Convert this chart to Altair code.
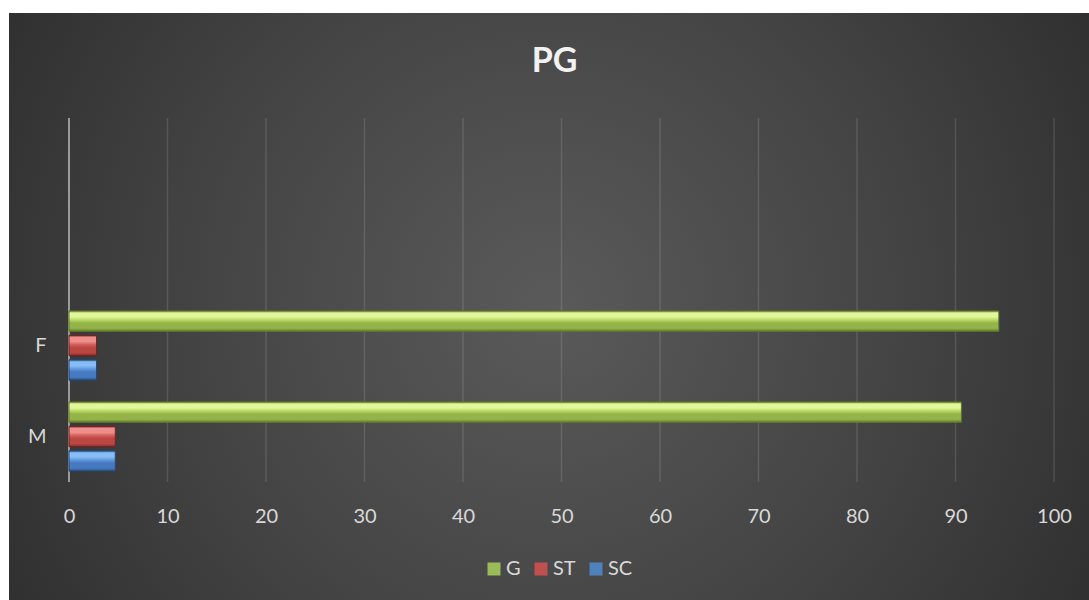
import altair as alt
import pandas as pd

# ---- data ----
categories = ["M", "F"]
series = ["G", "ST", "SC"]
g_values = [90.6, 94.4]
st_values = [4.7, 2.8]
sc_values = [4.7, 2.8]
x_ticks = [0, 10, 20, 30, 40, 50, 60, 70, 80, 90, 100]
# Excel category axis had two blank categories above F and M
y_domain = ["  ", " ", "F", "M"]
title_text = "PG"

rows = []
for i, c in enumerate(categories):
    rows.append({"cat": c, "series": "G", "value": g_values[i]})
    rows.append({"cat": c, "series": "ST", "value": st_values[i]})
    rows.append({"cat": c, "series": "SC", "value": sc_values[i]})
df = pd.DataFrame(rows)

W, H = 985, 364
FONT = "Lato"
TXT = "#d9d9d9"

xscale = alt.Scale(domain=[0, 100], nice=False, zero=True)
yscale = alt.Scale(domain=y_domain, paddingInner=0.24, paddingOuter=0.12)
yoff_scale = alt.Scale(domain=series, paddingInner=0.17, paddingOuter=0)

x_axis = alt.Axis(values=x_ticks, grid=False, domain=False, ticks=False,
                  labelColor=TXT, labelFontSize=20, labelFont=FONT,
                  labelPadding=24, labelFlush=False, labelOverlap=False,
                  title=None, zindex=1)
y_axis = alt.Axis(domain=False, ticks=False, grid=False, labelColor=TXT,
                  labelFontSize=20, labelFont=FONT, labelPadding=23, title=None,
                  zindex=1)

# background panel (radial dark gradient, like Excel's chart style)
bg = alt.Chart(pd.DataFrame({"a": [0]})).mark_rect(
    fill=alt.RadialGradient(
        gradient="radial", x1=0.5, y1=0.5, x2=0.5, y2=0.5, r1=0, r2=0.72,
        stops=[alt.GradientStop(color="#5a5a5a", offset=0),
               alt.GradientStop(color="#444444", offset=0.45),
               alt.GradientStop(color="#242424", offset=1)]),
    clip=False,
).encode(x=alt.value(-60), x2=alt.value(1020), y=alt.value(-105), y2=alt.value(482))

# title as a text mark (so the decorative background does not push it away)
title = alt.Chart(pd.DataFrame({"t": [title_text]})).mark_text(
    font=FONT, fontSize=34, fontWeight="bold", color="#f2f2f2",
    align="center", baseline="alphabetic"
).encode(text="t:N", x=alt.value(W / 2 - 7), y=alt.value(-46))

# vertical gridlines
grid = alt.Chart(pd.DataFrame({"t": x_ticks[1:]})).mark_rule(
    color="white", strokeOpacity=0.12, strokeWidth=1.5
).encode(x=alt.X("t:Q", scale=xscale, axis=x_axis), y=alt.value(0), y2=alt.value(H))

# category axis line at 0
axis_line = alt.Chart(pd.DataFrame({"t": [0]})).mark_rule(
    color="#9a9a9a", strokeWidth=2
).encode(x=alt.X("t:Q", scale=xscale, axis=x_axis), y=alt.value(0), y2=alt.value(H))

base_colors = {"G": "#9bbb59", "ST": "#c0504d", "SC": "#4f81bd"}

bars = alt.Chart(df).mark_bar(strokeWidth=0).encode(
    x=alt.X("value:Q", scale=xscale, axis=x_axis),
    y=alt.Y("cat:N", scale=yscale, axis=y_axis),
    yOffset=alt.YOffset("series:N", scale=yoff_scale),
    color=alt.Color("series:N",
                    scale=alt.Scale(domain=series, range=[base_colors[s] for s in series]),
                    legend=alt.Legend(title=None, orient="none", legendX=415, legendY=441,
                                      direction="horizontal", symbolType="square",
                                      symbolSize=169, symbolStrokeWidth=0,
                                      labelColor=TXT, labelFontSize=20, labelFont=FONT,
                                      labelOffset=2, columnPadding=10)),
)


def grad(dark, light, mid, base, low):
    return alt.LinearGradient(
        gradient="linear", x1=0, y1=0, x2=0, y2=1,
        stops=[alt.GradientStop(color=dark, offset=0),
               alt.GradientStop(color=light, offset=0.1),
               alt.GradientStop(color=light, offset=0.3),
               alt.GradientStop(color=mid, offset=0.45),
               alt.GradientStop(color=base, offset=0.6),
               alt.GradientStop(color=base, offset=0.85),
               alt.GradientStop(color=low, offset=1)])


grads = {
    "G": (grad("#6f8a35", "#e2f69c", "#b8d863", "#94b449", "#6a8530"), "#5c7429"),
    "ST": (grad("#8a2d2a", "#ef8f8c", "#d3605c", "#bb4743", "#8a2d2a"), "#6e2220"),
    "SC": (grad("#2c5588", "#88bdf5", "#5f9be0", "#4679c0", "#2c5588"), "#23456f"),
}

overlays = []
for s in series:
    g, stroke = grads[s]
    overlays.append(
        alt.Chart(df).transform_filter(alt.datum.series == s).mark_bar(
            fill=g, stroke=stroke, strokeWidth=1
        ).encode(
            x=alt.X("value:Q", scale=xscale, axis=x_axis),
            y=alt.Y("cat:N", scale=yscale, axis=y_axis),
            yOffset=alt.YOffset("series:N", scale=yoff_scale),
        )
    )

chart = alt.layer(bg, grid, axis_line, bars, *overlays, title).properties(
    width=W, height=H,
    autosize=alt.AutoSizeParams(type="none"),
    padding={"left": 69, "top": 118, "right": 35, "bottom": 118},
    background="white",
).configure_view(stroke=None)

chart.save("out.html", embed_options={"renderer": "svg", "actions": False})
